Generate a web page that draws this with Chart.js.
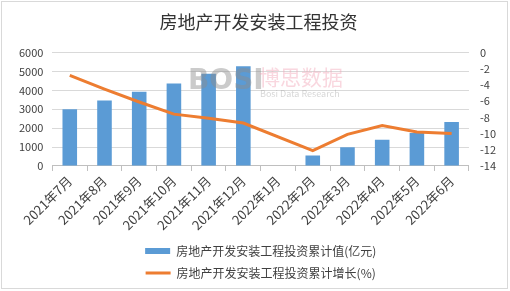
<!DOCTYPE html>
<html lang="zh">
<head>
    <meta charset="UTF-8">
    <title>房地产开发安装工程投资</title>
    <script src="https://cdn.jsdelivr.net/npm/chart.js"></script>
    <style>
        body { margin: 0; background: #fff; }
        #wrap { width: 510px; height: 291px; }
    </style>
</head>
<body>
<div id="wrap"><canvas id="investChart" width="510" height="291"></canvas></div>

<script>
    const months = ['2021年7月', '2021年8月', '2021年9月', '2021年10月', '2021年11月', '2021年12月',
        '2022年1月', '2022年2月', '2022年3月', '2022年4月', '2022年5月', '2022年6月'];
    const investValues = [3000, 3460, 3930, 4360, 4880, 5280, null, 550, 990, 1390, 1750, 2330];
    const growthValues = [-2.8, -4.5, -6.1, -7.6, -8.1, -8.7, null, -12.1, -10.1, -9.0, -9.8, -10.0];
    const leftTicks = [0, 1000, 2000, 3000, 4000, 5000, 6000];
    const rightTicks = [-14, -12, -10, -8, -6, -4, -2, 0];

    const fontFamily = '"Noto Sans CJK SC", "Noto Sans", sans-serif';

    // light frame + faint watermark like the original picture
    const decorPlugin = {
        id: 'decor',
        beforeDraw(chart) {
            const ctx = chart.ctx;
            ctx.save();
            ctx.fillStyle = '#fff';
            ctx.fillRect(0, 0, chart.width, chart.height);
            ctx.strokeStyle = '#d9d9d9';
            ctx.lineWidth = 1;
            ctx.strokeRect(1.5, 1.5, chart.width - 4, chart.height - 4);
            ctx.restore();
        },
        afterDatasetsDraw(chart) {
            const ctx = chart.ctx;
            ctx.save();
            ctx.globalAlpha = 0.45;
            ctx.textBaseline = 'alphabetic';
            ctx.fillStyle = '#8c8c8c';
            ctx.font = 'bold 28px "DejaVu Sans", sans-serif';
            ctx.fillText('BOSI', 188, 89);
            ctx.fillStyle = '#f2a7b8';
            ctx.font = '21px ' + fontFamily;
            ctx.fillText('博思数据', 259, 85);
            ctx.fillStyle = '#a6a6a6';
            ctx.font = '9px ' + fontFamily;
            ctx.fillText('Bosi Data Research', 260, 97);
            ctx.restore();
        }
    };

    const ctx = document.getElementById('investChart').getContext('2d');
    new Chart(ctx, {
        data: {
            labels: months,
            datasets: [
                {
                    type: 'bar',
                    label: '房地产开发安装工程投资累计值(亿元)',
                    data: investValues,
                    backgroundColor: '#5b9bd5',
                    borderWidth: 0,
                    barPercentage: 0.42,
                    categoryPercentage: 1,
                    yAxisID: 'y',
                    order: 1,
                    pointStyle: 'rect'
                },
                {
                    type: 'line',
                    label: '房地产开发安装工程投资累计增长(%)',
                    data: growthValues,
                    borderColor: '#ed7d31',
                    backgroundColor: '#ed7d31',
                    borderWidth: 3,
                    pointRadius: 0,
                    tension: 0,
                    spanGaps: true,
                    yAxisID: 'y1',
                    order: 0,
                    pointStyle: 'line'
                }
            ]
        },
        options: {
            responsive: false,
            animation: false,
            layout: { padding: { left: 10, right: 3, top: 0, bottom: 2 } },
            plugins: {
                title: {
                    display: true,
                    text: '房地产开发安装工程投资',
                    color: '#333333',
                    font: { family: fontFamily, size: 18, weight: 'normal' },
                    padding: { top: 11, bottom: 20 }
                },
                legend: {
                    position: 'bottom',
                    fullSize: false,
                    labels: {
                        usePointStyle: true,
                        pointStyleWidth: 25,
                        boxHeight: 6,
                        padding: 10,
                        color: '#404040',
                        font: { family: fontFamily, size: 12 },
                        sort: (a, b) => a.datasetIndex - b.datasetIndex
                    }
                },
                tooltip: { enabled: false }
            },
            scales: {
                x: {
                    grid: {
                        offset: true,
                        drawOnChartArea: false,
                        drawTicks: true,
                        tickLength: 5,
                        color: '#bfbfbf'
                    },
                    border: { display: true, color: '#bfbfbf' },
                    ticks: {
                        minRotation: 45,
                        maxRotation: 45,
                        autoSkip: false,
                        padding: 2,
                        color: '#404040',
                        font: { family: fontFamily, size: 13 }
                    }
                },
                y: {
                    position: 'left',
                    min: 0,
                    max: 6000,
                    afterBuildTicks: axis => { axis.ticks = leftTicks.map(v => ({ value: v })); },
                    grid: { color: '#d9d9d9', drawTicks: false },
                    border: { display: false },
                    ticks: {
                        autoSkip: false,
                        padding: 9,
                        color: '#404040',
                        font: { family: fontFamily, size: 11 },
                        callback: v => String(v)
                    }
                },
                y1: {
                    position: 'right',
                    min: -14,
                    max: 0,
                    afterBuildTicks: axis => { axis.ticks = rightTicks.map(v => ({ value: v })); },
                    grid: { drawOnChartArea: false, drawTicks: false },
                    border: { display: false },
                    ticks: {
                        autoSkip: false,
                        padding: 11,
                        color: '#404040',
                        font: { family: fontFamily, size: 11 },
                        callback: v => String(v)
                    }
                }
            }
        },
        plugins: [decorPlugin]
    });
</script>
</body>
</html>
